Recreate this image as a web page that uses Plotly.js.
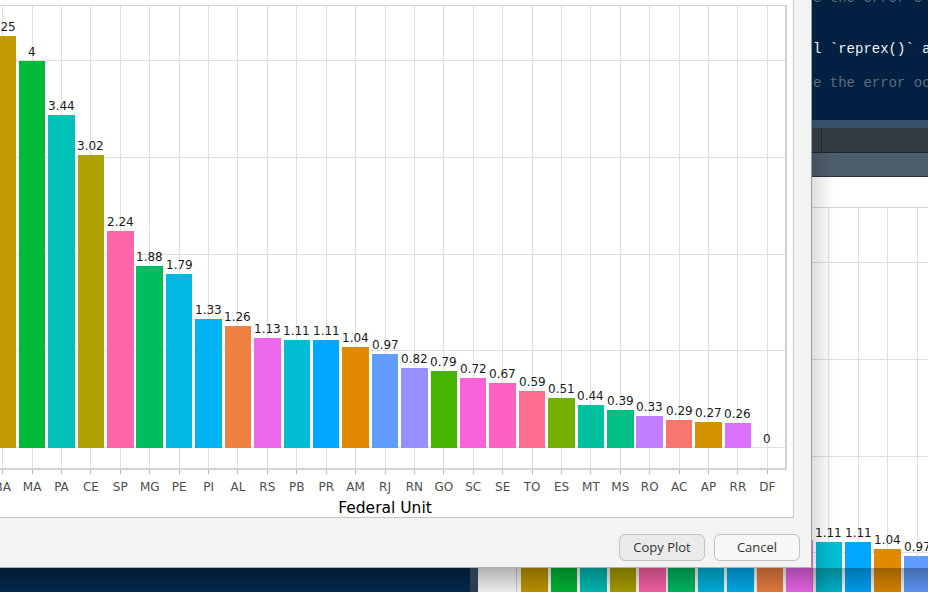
<!DOCTYPE html>
<html>
<head>
<meta charset="utf-8">
<script src="https://cdn.plot.ly/plotly-3.0.1.min.js"></script>
<style>
  html, body { margin:0; padding:0; }
  body { width:928px; height:592px; overflow:hidden; position:relative; background:#012040; }
  .abs { position:absolute; }
  .code { position:absolute; left:813px; font-family:"Liberation Mono","DejaVu Sans Mono",monospace; font-size:14px; white-space:pre; line-height:14px; }
  .btn { position:absolute; top:534px; height:25px; border:1px solid #c2c2c2; border-radius:6px;
         font-family:"Open Sans","Noto Sans",sans-serif; font-size:13px; color:#333; text-align:center; line-height:25px; }
</style>
</head>
<body>
<!-- right-hand IDE panes -->
<div class="abs" style="left:812px;top:0;width:116px;height:120px;background:#022142;"></div>
<div class="code" style="top:-9px;color:#5b6b7d;">e the error o</div>
<div class="code" style="top:42px;color:#f2f2f2;">l `reprex()` a</div>
<div class="code" style="top:76px;color:#5b6b7d;">e the error oc</div>
<div class="abs" style="left:812px;top:120px;width:116px;height:8px;background:#34506b;"></div>
<div class="abs" style="left:812px;top:128px;width:116px;height:25px;background:#313b44;border-bottom:1px solid #1d252c;box-sizing:border-box;"></div>
<div class="abs" style="left:821px;top:128px;width:1px;height:25px;background:#1d252c;"></div>
<div class="abs" style="left:812px;top:153px;width:116px;height:24px;background:#4e5e6b;border-bottom:1px solid #2a343c;box-sizing:border-box;"></div>
<div class="abs" style="left:812px;top:177px;width:116px;height:415px;background:#ffffff;"></div>

<!-- viewer chart behind the dialog -->
<div id="behind" class="abs" style="left:492px;top:202px;width:833px;height:517px;"></div>

<div class="abs" style="left:0;top:568px;width:470px;height:24px;background:linear-gradient(#011a33,#02294b);"></div>
<div class="abs" style="left:470px;top:568px;width:8px;height:24px;background:#2c3e50;"></div>
<div class="abs" style="left:478px;top:568px;width:14px;height:24px;background:#ffffff;"></div>
<div class="abs" style="left:478px;top:568px;width:450px;height:24px;background:linear-gradient(rgba(0,0,0,0.30),rgba(0,0,0,0.08));"></div>
<div class="abs" style="left:812px;top:153px;width:22px;height:439px;background:linear-gradient(to right,rgba(0,0,0,0.13),rgba(0,0,0,0));"></div>

<!-- dialog -->
<div class="abs" style="left:0;top:0;width:812px;height:568px;background:#f2f3f3;border-right:1px solid #9c9c9c;border-bottom:1px solid #b0b0b0;box-sizing:border-box;"></div>
<div class="abs" style="left:0;top:0;width:794px;height:518px;background:#ffffff;border-right:1px solid #c4c4c4;border-bottom:1px solid #c4c4c4;box-sizing:border-box;overflow:hidden;">
  <div id="chart" class="abs" style="left:-40px;top:0;width:833px;height:517px;"></div>
</div>
<div class="btn" style="left:619px;width:84px;background:#eaeaea;">Copy Plot</div>
<div class="btn" style="left:714px;width:84px;background:#f7f7f7;">Cancel</div>

<script>
// ---- data ----
const units = ["BA","MA","PA","CE","SP","MG","PE","PI","AL","RS","PB","PR","AM","RJ","RN","GO","SC","SE","TO","ES","MT","MS","RO","AC","AP","RR","DF"];
const values = [4.25,4,3.44,3.02,2.24,1.88,1.79,1.33,1.26,1.13,1.11,1.11,1.04,0.97,0.82,0.79,0.72,0.67,0.59,0.51,0.44,0.39,0.33,0.29,0.27,0.26,0];
const valueLabels = ["4.25","4","3.44","3.02","2.24","1.88","1.79","1.33","1.26","1.13","1.11","1.11","1.04","0.97","0.82","0.79","0.72","0.67","0.59","0.51","0.44","0.39","0.33","0.29","0.27","0.26","0"];
const barColors = ["#C29B00","#00BA38","#00C0B8","#ADA200","#FF66AA","#00BD62","#00B9E3","#00B2F3","#EE8042","#EE68EC","#00BDD2","#00A7FF","#E18A00","#619CFF","#978FFF","#46B500","#FA62DA","#FF61C3","#FE6D8E","#74B000","#00C19F","#00C083","#C17FFF","#F8766D","#D39200","#DB72FB","#93AA00"];
const xTitle = "Federal Unit";

const FONT = '"DejaVu Sans", Verdana, sans-serif';

function draw(divId) {
  const bars = {
    type: 'bar', x: units, y: values, width: 0.9,
    marker: { color: barColors, line: { width: 0 } },
    hoverinfo: 'none', showlegend: false
  };
  const annotations = units.map((u, i) => ({
    x: u, y: values[i], text: valueLabels[i], xref: 'x', yref: 'y',
    showarrow: false, yanchor: 'bottom', yshift: 0,
    font: { family: FONT, size: 12, color: '#1a1a1a' }
  }));
  const layout = {
    width: 833, height: 517,
    margin: { l: 25, r: 8, t: 6, b: 49 },
    paper_bgcolor: '#ffffff', plot_bgcolor: '#ffffff',
    showlegend: false,
    bargap: 0,
    annotations: annotations,
    xaxis: {
      type: 'category', range: [-0.6, 26.6], autorange: false,
      showgrid: true, gridcolor: '#dedede', gridwidth: 1,
      showline: true, mirror: true, linecolor: '#d3d3d3', linewidth: 1.5,
      ticks: 'outside', ticklen: 4, tickcolor: '#b3b3b3', tickwidth: 1,
      ticklabelstandoff: 3,
      tickfont: { family: FONT, size: 12, color: '#4d4d4d' },
      zeroline: false,
      title: { text: xTitle, font: { family: FONT, size: 15.5, color: '#000000' }, standoff: 11 }
    },
    yaxis: {
      range: [-0.21, 4.565], autorange: false, dtick: 1, tick0: 0,
      showgrid: true, gridcolor: '#dedede', gridwidth: 1,
      showline: true, mirror: true, linecolor: '#d3d3d3', linewidth: 1.5,
      ticks: 'outside', ticklen: 4, tickcolor: '#b3b3b3',
      tickfont: { family: FONT, size: 12, color: '#4d4d4d' },
      zeroline: false
    }
  };
  return Plotly.newPlot(divId, [bars], layout, { staticPlot: true, displayModeBar: false });
}
draw('chart');
draw('behind');
</script>
</body>
</html>
